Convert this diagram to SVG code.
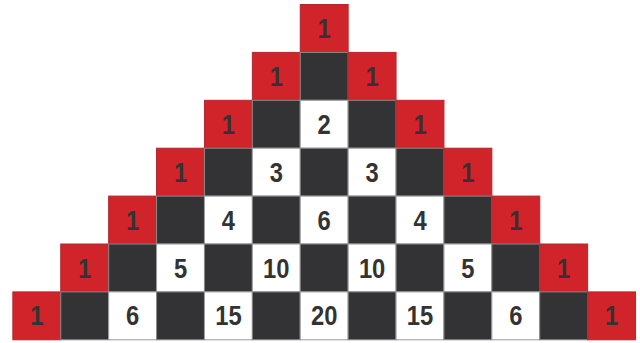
<svg xmlns="http://www.w3.org/2000/svg" width="640" height="343" viewBox="0 0 640 343">
<style>
.r{fill:#d1232a;stroke:#b3262c;stroke-width:1}
.d{fill:#333335;stroke:#8a8a8a;stroke-width:1}
.w{fill:#ffffff;stroke:#9a9a9a;stroke-width:1}
text{font-family:"Liberation Sans",Arial,sans-serif;font-weight:bold;font-size:28px;fill:#333333;text-anchor:middle}
</style>
<rect width="640" height="343" fill="#ffffff"/>
<g id="row0">
<g id="c0_0"><rect class="r" x="300.25" y="4.5" width="47.9" height="47.9"/><text transform="translate(324.2,38) scale(0.85,1)">1</text></g>
</g>
<g id="row1">
<g id="c1_0"><rect class="r" x="252.35" y="52.4" width="47.9" height="47.9"/><text transform="translate(276.3,85.9) scale(0.85,1)">1</text></g>
<g id="c1_d1"><rect class="d" x="300.25" y="52.4" width="47.9" height="47.9"/></g>
<g id="c1_1"><rect class="r" x="348.15" y="52.4" width="47.9" height="47.9"/><text transform="translate(372.1,85.9) scale(0.85,1)">1</text></g>
</g>
<g id="row2">
<g id="c2_0"><rect class="r" x="204.45" y="100.3" width="47.9" height="47.9"/><text transform="translate(228.4,133.8) scale(0.85,1)">1</text></g>
<g id="c2_d1"><rect class="d" x="252.35" y="100.3" width="47.9" height="47.9"/></g>
<g id="c2_1"><rect class="w" x="300.25" y="100.3" width="47.9" height="47.9"/><text transform="translate(324.2,133.8) scale(0.85,1)">2</text></g>
<g id="c2_d2"><rect class="d" x="348.15" y="100.3" width="47.9" height="47.9"/></g>
<g id="c2_2"><rect class="r" x="396.05" y="100.3" width="47.9" height="47.9"/><text transform="translate(420,133.8) scale(0.85,1)">1</text></g>
</g>
<g id="row3">
<g id="c3_0"><rect class="r" x="156.55" y="148.2" width="47.9" height="47.9"/><text transform="translate(180.5,181.7) scale(0.85,1)">1</text></g>
<g id="c3_d1"><rect class="d" x="204.45" y="148.2" width="47.9" height="47.9"/></g>
<g id="c3_1"><rect class="w" x="252.35" y="148.2" width="47.9" height="47.9"/><text transform="translate(276.3,181.7) scale(0.85,1)">3</text></g>
<g id="c3_d2"><rect class="d" x="300.25" y="148.2" width="47.9" height="47.9"/></g>
<g id="c3_2"><rect class="w" x="348.15" y="148.2" width="47.9" height="47.9"/><text transform="translate(372.1,181.7) scale(0.85,1)">3</text></g>
<g id="c3_d3"><rect class="d" x="396.05" y="148.2" width="47.9" height="47.9"/></g>
<g id="c3_3"><rect class="r" x="443.95" y="148.2" width="47.9" height="47.9"/><text transform="translate(467.9,181.7) scale(0.85,1)">1</text></g>
</g>
<g id="row4">
<g id="c4_0"><rect class="r" x="108.65" y="196.1" width="47.9" height="47.9"/><text transform="translate(132.6,229.6) scale(0.85,1)">1</text></g>
<g id="c4_d1"><rect class="d" x="156.55" y="196.1" width="47.9" height="47.9"/></g>
<g id="c4_1"><rect class="w" x="204.45" y="196.1" width="47.9" height="47.9"/><text transform="translate(228.4,229.6) scale(0.85,1)">4</text></g>
<g id="c4_d2"><rect class="d" x="252.35" y="196.1" width="47.9" height="47.9"/></g>
<g id="c4_2"><rect class="w" x="300.25" y="196.1" width="47.9" height="47.9"/><text transform="translate(324.2,229.6) scale(0.85,1)">6</text></g>
<g id="c4_d3"><rect class="d" x="348.15" y="196.1" width="47.9" height="47.9"/></g>
<g id="c4_3"><rect class="w" x="396.05" y="196.1" width="47.9" height="47.9"/><text transform="translate(420,229.6) scale(0.85,1)">4</text></g>
<g id="c4_d4"><rect class="d" x="443.95" y="196.1" width="47.9" height="47.9"/></g>
<g id="c4_4"><rect class="r" x="491.85" y="196.1" width="47.9" height="47.9"/><text transform="translate(515.8,229.6) scale(0.85,1)">1</text></g>
</g>
<g id="row5">
<g id="c5_0"><rect class="r" x="60.75" y="244" width="47.9" height="47.9"/><text transform="translate(84.7,277.5) scale(0.85,1)">1</text></g>
<g id="c5_d1"><rect class="d" x="108.65" y="244" width="47.9" height="47.9"/></g>
<g id="c5_1"><rect class="w" x="156.55" y="244" width="47.9" height="47.9"/><text transform="translate(180.5,277.5) scale(0.85,1)">5</text></g>
<g id="c5_d2"><rect class="d" x="204.45" y="244" width="47.9" height="47.9"/></g>
<g id="c5_2"><rect class="w" x="252.35" y="244" width="47.9" height="47.9"/><text transform="translate(276.3,277.5) scale(0.85,1)">10</text></g>
<g id="c5_d3"><rect class="d" x="300.25" y="244" width="47.9" height="47.9"/></g>
<g id="c5_3"><rect class="w" x="348.15" y="244" width="47.9" height="47.9"/><text transform="translate(372.1,277.5) scale(0.85,1)">10</text></g>
<g id="c5_d4"><rect class="d" x="396.05" y="244" width="47.9" height="47.9"/></g>
<g id="c5_4"><rect class="w" x="443.95" y="244" width="47.9" height="47.9"/><text transform="translate(467.9,277.5) scale(0.85,1)">5</text></g>
<g id="c5_d5"><rect class="d" x="491.85" y="244" width="47.9" height="47.9"/></g>
<g id="c5_5"><rect class="r" x="539.75" y="244" width="47.9" height="47.9"/><text transform="translate(563.7,277.5) scale(0.85,1)">1</text></g>
</g>
<g id="row6">
<g id="c6_0"><rect class="r" x="12.85" y="291.9" width="47.9" height="47.9"/><text transform="translate(36.8,325.4) scale(0.85,1)">1</text></g>
<g id="c6_d1"><rect class="d" x="60.75" y="291.9" width="47.9" height="47.9"/></g>
<g id="c6_1"><rect class="w" x="108.65" y="291.9" width="47.9" height="47.9"/><text transform="translate(132.6,325.4) scale(0.85,1)">6</text></g>
<g id="c6_d2"><rect class="d" x="156.55" y="291.9" width="47.9" height="47.9"/></g>
<g id="c6_2"><rect class="w" x="204.45" y="291.9" width="47.9" height="47.9"/><text transform="translate(228.4,325.4) scale(0.85,1)">15</text></g>
<g id="c6_d3"><rect class="d" x="252.35" y="291.9" width="47.9" height="47.9"/></g>
<g id="c6_3"><rect class="w" x="300.25" y="291.9" width="47.9" height="47.9"/><text transform="translate(324.2,325.4) scale(0.85,1)">20</text></g>
<g id="c6_d4"><rect class="d" x="348.15" y="291.9" width="47.9" height="47.9"/></g>
<g id="c6_4"><rect class="w" x="396.05" y="291.9" width="47.9" height="47.9"/><text transform="translate(420,325.4) scale(0.85,1)">15</text></g>
<g id="c6_d5"><rect class="d" x="443.95" y="291.9" width="47.9" height="47.9"/></g>
<g id="c6_5"><rect class="w" x="491.85" y="291.9" width="47.9" height="47.9"/><text transform="translate(515.8,325.4) scale(0.85,1)">6</text></g>
<g id="c6_d6"><rect class="d" x="539.75" y="291.9" width="47.9" height="47.9"/></g>
<g id="c6_6"><rect class="r" x="587.65" y="291.9" width="47.9" height="47.9"/><text transform="translate(611.6,325.4) scale(0.85,1)">1</text></g>
</g>
</svg>
